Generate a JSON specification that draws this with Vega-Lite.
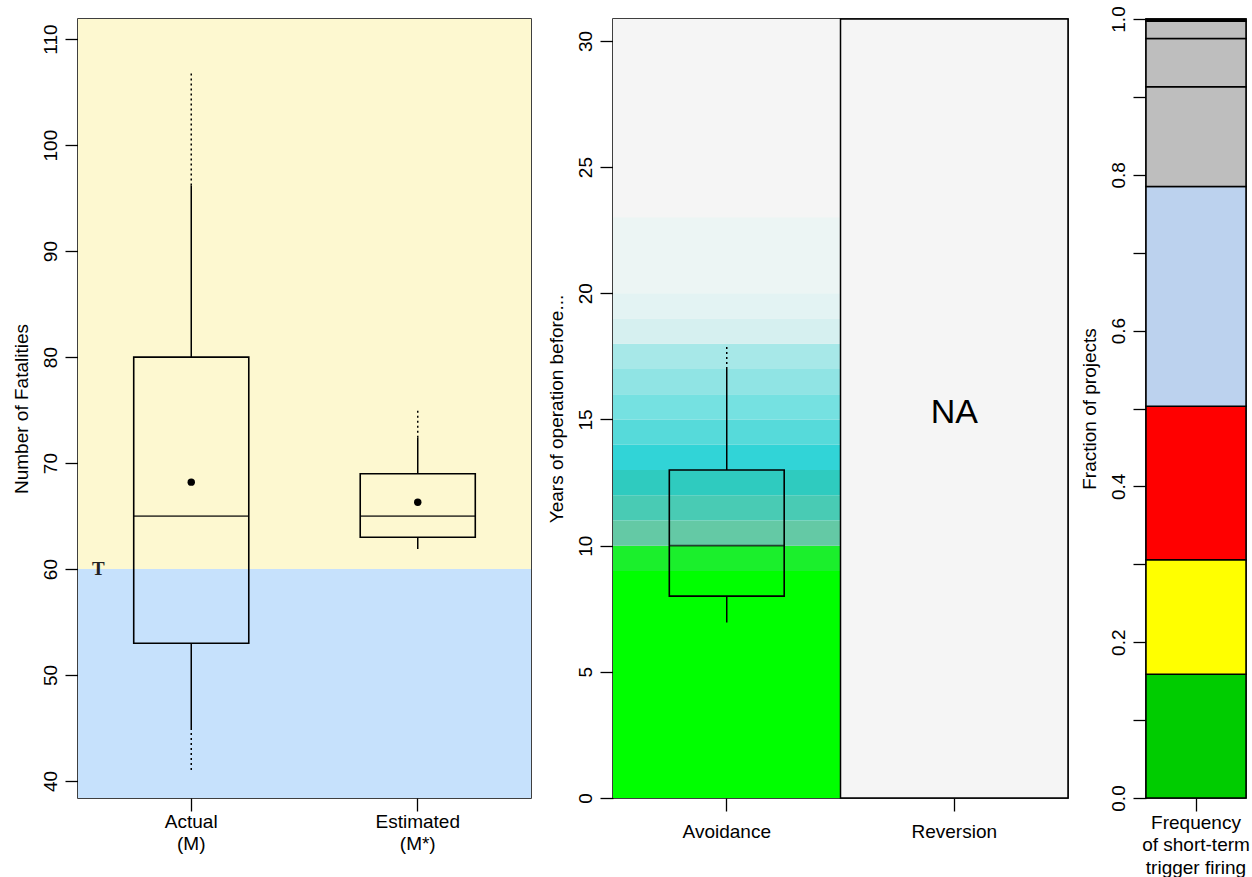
{
  "$schema": "https://vega.github.io/schema/vega-lite/v6.json",
  "background": "white",
  "padding": {"left": 11, "top": 5, "right": 5, "bottom": 5},
  "spacing": 14,
  "config": {
    "view": {"stroke": "black", "strokeWidth": 1.5},
    "font": "Liberation Sans",
    "axis": {"domain": false, "grid": false, "ticks": true, "tickColor": "black", "tickSize": 13, "tickWidth": 1.3, "labelColor": "black", "labelFont": "Liberation Sans", "labelFontSize": 19, "titleColor": "black", "titleFont": "Liberation Sans", "titleFontSize": 19, "titleFontWeight": "normal"},
    "axisY": {"labelAngle": -90, "labelAlign": "center", "labelBaseline": "alphabetic", "labelPadding": 9, "titlePadding": 10},
    "axisX": {"labelAngle": 0, "labelBaseline": "top", "labelLineHeight": 22.5}
  },
  "datasets": {
    "left_bg": [{"lo": 38.4, "hi": 60, "zone": "below"}, {"lo": 60, "hi": 111.9, "zone": "above"}],
    "left_box": [
      {"col": "Actual", "q1": 53, "med": 65, "q3": 80, "mean": 68.2},
      {"col": "Estimated", "q1": 63, "med": 65, "q3": 69, "mean": 66.3}
    ],
    "left_whisk": [
      {"col": "Actual", "y1": 80, "y2": 96.2, "kind": "solid"},
      {"col": "Actual", "y1": 96.2, "y2": 107, "kind": "dotted"},
      {"col": "Actual", "y1": 53, "y2": 45, "kind": "solid"},
      {"col": "Actual", "y1": 45, "y2": 41, "kind": "dotted"},
      {"col": "Estimated", "y1": 69, "y2": 72.4, "kind": "solid"},
      {"col": "Estimated", "y1": 72.4, "y2": 75, "kind": "dotted"},
      {"col": "Estimated", "y1": 63, "y2": 61.9, "kind": "solid"}
    ],
    "left_mark": [{"pos": 0.59, "val": 60, "lab": "T"}],
    "mid_bg": [{"lo": 0, "hi": 30.87}],
    "mid_bands": [
      {"col": "Avoidance", "lo": 0, "hi": 9, "lvl": 0},
      {"col": "Avoidance", "lo": 9, "hi": 10, "lvl": 9},
      {"col": "Avoidance", "lo": 10, "hi": 11, "lvl": 10},
      {"col": "Avoidance", "lo": 11, "hi": 12, "lvl": 11},
      {"col": "Avoidance", "lo": 12, "hi": 13, "lvl": 12},
      {"col": "Avoidance", "lo": 13, "hi": 14, "lvl": 13},
      {"col": "Avoidance", "lo": 14, "hi": 15, "lvl": 14},
      {"col": "Avoidance", "lo": 15, "hi": 16, "lvl": 15},
      {"col": "Avoidance", "lo": 16, "hi": 17, "lvl": 16},
      {"col": "Avoidance", "lo": 17, "hi": 18, "lvl": 17},
      {"col": "Avoidance", "lo": 18, "hi": 19, "lvl": 18},
      {"col": "Avoidance", "lo": 19, "hi": 20, "lvl": 19},
      {"col": "Avoidance", "lo": 20, "hi": 23, "lvl": 20}
    ],
    "mid_div": [{"col": "Reversion", "lo": 0, "hi": 30.87}],
    "mid_box": [{"col": "Avoidance", "q1": 8, "med": 10, "q3": 13}],
    "mid_whisk": [
      {"col": "Avoidance", "y1": 13, "y2": 17.0, "kind": "solid"},
      {"col": "Avoidance", "y1": 17.0, "y2": 17.95, "kind": "dotted"},
      {"col": "Avoidance", "y1": 8, "y2": 6.95, "kind": "solid"}
    ],
    "mid_na": [{"col": "Reversion", "val": 15.25, "lab": "NA"}],
    "right_seg": [
      {"cat": "freq", "lo": 0, "hi": 0.159, "seg": "s1"},
      {"cat": "freq", "lo": 0.159, "hi": 0.306, "seg": "s2"},
      {"cat": "freq", "lo": 0.306, "hi": 0.503, "seg": "s3"},
      {"cat": "freq", "lo": 0.503, "hi": 0.785, "seg": "s4"},
      {"cat": "freq", "lo": 0.785, "hi": 0.913, "seg": "s5"},
      {"cat": "freq", "lo": 0.913, "hi": 0.975, "seg": "s6"},
      {"cat": "freq", "lo": 0.975, "hi": 0.997, "seg": "s7"},
      {"cat": "freq", "lo": 0.997, "hi": 1.0, "seg": "s8"}
    ]
  },
  "resolve": {"scale": {"color": "independent", "strokeDash": "independent"}},
  "hconcat": [
    {
      "width": 453,
      "height": 779,
      "resolve": {"scale": {"x": "independent"}},
      "layer": [
        {
          "layer": [
            {
              "data": {"name": "left_bg"},
              "mark": {"type": "rect"},
              "encoding": {
                "y": {"field": "lo", "type": "quantitative", "title": "Number of Fatalities", "scale": {"domain": [38.4, 111.9], "nice": false, "zero": false}, "axis": {"values": [40, 50, 60, 70, 80, 90, 100, 110]}},
                "y2": {"field": "hi"},
                "color": {"field": "zone", "type": "nominal", "scale": {"domain": ["below", "above"], "range": ["#c6e1fc", "#fdf8d0"]}, "legend": null}
              }
            },
            {
              "data": {"name": "left_whisk"},
              "mark": {"type": "rule", "color": "black", "strokeWidth": 1.5},
              "encoding": {
                "x": {"field": "col", "type": "nominal", "title": null, "scale": {"domain": ["Actual", "Estimated"], "paddingInner": 0, "paddingOuter": 0}, "axis": {"labelPadding": 1, "labelExpr": "datum.value == 'Actual' ? ['Actual', '(M)'] : ['Estimated', '(M*)']"}},
                "y": {"field": "y1", "type": "quantitative", "title": "Number of Fatalities"},
                "y2": {"field": "y2"},
                "strokeDash": {"field": "kind", "type": "nominal", "scale": {"domain": ["solid", "dotted"], "range": [[1, 0], [2, 3]]}, "legend": null}
              }
            },
            {
              "data": {"name": "left_box"},
              "mark": {"type": "bar", "fill": "transparent", "stroke": "black", "strokeWidth": 1.6, "width": {"band": 0.508}},
              "encoding": {
                "x": {"field": "col", "type": "nominal", "title": null},
                "y": {"field": "q1", "type": "quantitative", "title": "Number of Fatalities"},
                "y2": {"field": "q3"}
              }
            },
            {
              "data": {"name": "left_box"},
              "mark": {"type": "tick", "orient": "horizontal", "color": "black", "thickness": 1.8, "size": 115},
              "encoding": {
                "x": {"field": "col", "type": "nominal", "title": null},
                "y": {"field": "med", "type": "quantitative", "title": "Number of Fatalities"}
              }
            },
            {
              "data": {"name": "left_box"},
              "mark": {"type": "point", "filled": true, "color": "black", "opacity": 1, "size": 55},
              "encoding": {
                "x": {"field": "col", "type": "nominal", "title": null},
                "y": {"field": "mean", "type": "quantitative", "title": "Number of Fatalities"}
              }
            }
          ]
        },
        {
          "data": {"name": "left_mark"},
          "mark": {"type": "text", "font": "Liberation Serif", "fontWeight": "bold", "fontSize": 19, "color": "#222222", "align": "center", "baseline": "middle"},
          "encoding": {
            "x": {"field": "pos", "type": "quantitative", "scale": {"domain": [0.5, 2.5], "nice": false, "zero": false}, "axis": null},
            "y": {"field": "val", "type": "quantitative", "title": "Number of Fatalities"},
            "text": {"field": "lab"}
          }
        }
      ]
    },
    {
      "spacing": 9,
      "resolve": {"scale": {"color": "independent", "strokeDash": "independent"}},
      "hconcat": [
        {
          "width": 455,
          "height": 779,
          "layer": [
            {
              "data": {"name": "mid_bg"},
              "mark": {"type": "rect", "color": "#f5f5f5"},
              "encoding": {
                "y": {"field": "lo", "type": "quantitative", "title": "Years of operation before...", "scale": {"domain": [0, 30.87], "nice": false, "zero": false}, "axis": {"values": [0, 5, 10, 15, 20, 25, 30]}},
                "y2": {"field": "hi"}
              }
            },
            {
              "data": {"name": "mid_bands"},
              "mark": {"type": "rect"},
              "encoding": {
                "x": {"field": "col", "type": "nominal", "title": null, "scale": {"domain": ["Avoidance", "Reversion"], "paddingInner": 0, "paddingOuter": 0}, "axis": {"labelPadding": 11}},
                "y": {"field": "lo", "type": "quantitative", "title": "Years of operation before..."},
                "y2": {"field": "hi"},
                "color": {"field": "lvl", "type": "ordinal", "scale": {"domain": [0, 9, 10, 11, 12, 13, 14, 15, 16, 17, 18, 19, 20], "range": ["#00ff00", "#1bef2c", "#64c9a5", "#49cbb4", "#2fcbbf", "#31d4d7", "#56dada", "#75e1e1", "#90e4e4", "#a7e8e8", "#d6f0f0", "#e3f3f3", "#ecf5f4"]}, "legend": null}
              }
            },
            {
              "data": {"name": "mid_div"},
              "mark": {"type": "rect", "fill": "transparent", "stroke": "black", "strokeWidth": 1.5},
              "encoding": {
                "x": {"field": "col", "type": "nominal", "title": null},
                "y": {"field": "lo", "type": "quantitative", "title": "Years of operation before..."},
                "y2": {"field": "hi"}
              }
            },
            {
              "data": {"name": "mid_whisk"},
              "mark": {"type": "rule", "color": "black", "strokeWidth": 1.5},
              "encoding": {
                "x": {"field": "col", "type": "nominal", "title": null},
                "y": {"field": "y1", "type": "quantitative", "title": "Years of operation before..."},
                "y2": {"field": "y2"},
                "strokeDash": {"field": "kind", "type": "nominal", "scale": {"domain": ["solid", "dotted"], "range": [[1, 0], [2, 3]]}, "legend": null}
              }
            },
            {
              "data": {"name": "mid_box"},
              "mark": {"type": "bar", "fill": "transparent", "stroke": "black", "strokeWidth": 1.6, "width": {"band": 0.505}},
              "encoding": {
                "x": {"field": "col", "type": "nominal", "title": null},
                "y": {"field": "q1", "type": "quantitative", "title": "Years of operation before..."},
                "y2": {"field": "q3"}
              }
            },
            {
              "data": {"name": "mid_box"},
              "mark": {"type": "tick", "orient": "horizontal", "color": "black", "thickness": 1.8, "size": 115},
              "encoding": {
                "x": {"field": "col", "type": "nominal", "title": null},
                "y": {"field": "med", "type": "quantitative", "title": "Years of operation before..."}
              }
            },
            {
              "data": {"name": "mid_na"},
              "mark": {"type": "text", "font": "Liberation Sans", "fontSize": 34, "color": "black", "align": "center", "baseline": "middle"},
              "encoding": {
                "x": {"field": "col", "type": "nominal", "title": null},
                "y": {"field": "val", "type": "quantitative", "title": "Years of operation before..."},
                "text": {"field": "lab"}
              }
            }
          ]
        },
        {
          "width": 100,
          "height": 779,
          "data": {"name": "right_seg"},
          "mark": {"type": "bar", "stroke": "black", "strokeWidth": 1.5, "width": {"band": 1}},
          "encoding": {
            "x": {"field": "cat", "type": "nominal", "title": null, "scale": {"paddingInner": 0, "paddingOuter": 0}, "axis": {"labelPadding": 2, "labelExpr": "['Frequency', 'of short-term', 'trigger firing']"}},
            "y": {"field": "lo", "type": "quantitative", "title": "Fraction of projects", "scale": {"domain": [0, 1], "nice": false, "zero": false}, "axis": {"values": [0, 0.1, 0.2, 0.3, 0.4, 0.5, 0.6, 0.7, 0.8, 0.9, 1.0], "labelExpr": "round(datum.value * 10) % 2 == 0 ? format(datum.value, '.1f') : ''"}},
            "y2": {"field": "hi"},
            "color": {"field": "seg", "type": "nominal", "scale": {"domain": ["s1", "s2", "s3", "s4", "s5", "s6", "s7", "s8"], "range": ["#00cc00", "#ffff00", "#ff0000", "#bcd2ee", "#bebebe", "#bebebe", "#bebebe", "#000000"]}, "legend": null}
          }
        }
      ]
    }
  ]
}
